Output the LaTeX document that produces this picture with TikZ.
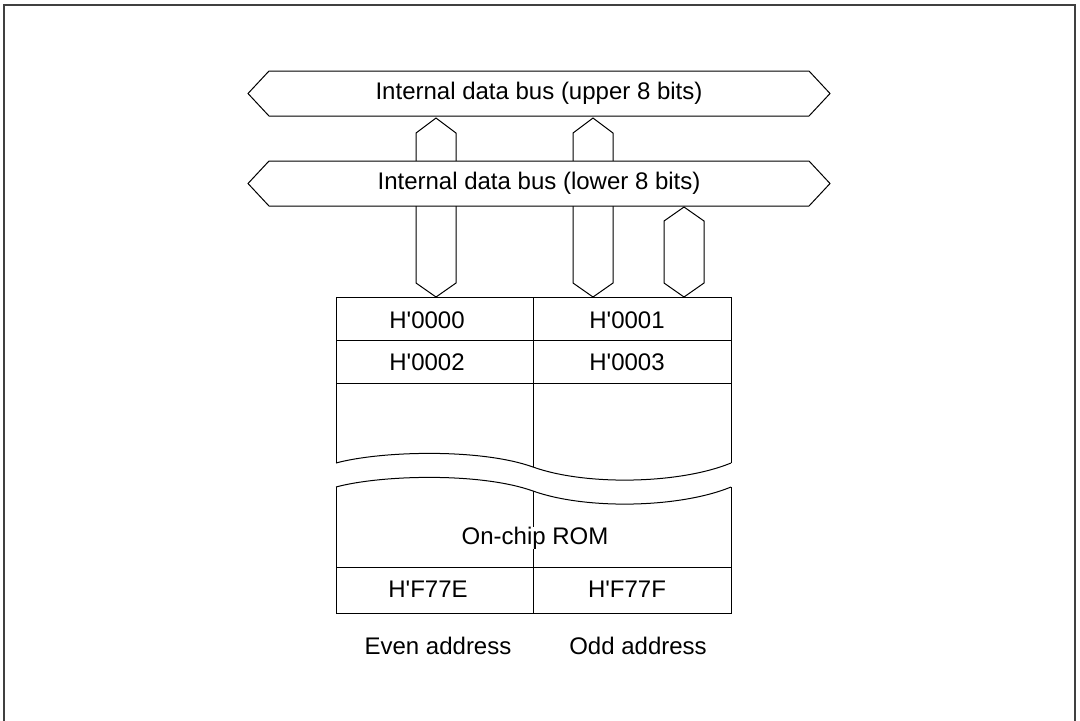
\documentclass[tikz,border=0pt]{standalone}
\usepackage{fontspec}
\setmainfont{Liberation Sans}
\usepackage{tikz}
\usetikzlibrary{positioning}

\begin{document}
\begin{tikzpicture}[x=0.5pt, y=-0.5pt,
        bus/.style={draw=black, fill=white, line width=0.5pt, line join=miter},
        rom/.style={draw=black, line width=0.5pt},
        txt/.style={font=\fontsize{12}{14}\selectfont, inner sep=1pt},
        romlabel/.style={txt, fill=white, inner sep=0pt},
        frame/.style={draw=black!75, line width=1pt}
    ]
        \useasboundingbox (0,0) rectangle (1080,720);
        % outer frame (bottom edge cut off)
        \draw [frame] (4,724) -- (4,5) -- (1075,5) -- (1075,724);

        % vertical buses between upper and lower bus / ROM
        \draw [bus] (436,118) -- (456,133) -- (456,283) -- (436,297) -- (416,283) -- (416,133) -- cycle;
        \draw [bus] (593,118) -- (613,133) -- (613,283) -- (593,297) -- (573,283) -- (573,133) -- cycle;

        % internal data buses
        \draw [bus] (248,93.5) -- (269,71) -- (809,71) -- (830,93.5) -- (809,116) -- (269,116) -- cycle;
        \node [txt] (upperbus) at (539,93.5) {Internal data bus (upper 8 bits)};
        \draw [bus] (248,183.5) -- (269,161) -- (809,161) -- (830,183.5) -- (809,206) -- (269,206) -- cycle;
        \node [txt] (lowerbus) at (539,183.5) {Internal data bus (lower 8 bits)};

        \draw [bus] (684,207) -- (704,221) -- (704,283) -- (684,297) -- (664,283) -- (664,221) -- cycle;

        % on-chip ROM, upper part
        \coordinate (tl) at (336,297);
        \coordinate (tr) at (731,297);
        \coordinate (wl) at (336,463);
        \coordinate (wm) at (533,467);
        \coordinate (wr) at (731,463);
        \draw [rom] (wl) -- (tl) -- (tr) -- (wr);
        \draw [rom] (wl) .. controls (380,451) and (480,448) .. (wm)
                         .. controls (586,486) and (680,484) .. (wr);
        \draw [rom] (336,340) -- (731,340);
        \draw [rom] (336,383) -- (731,383);
        \draw [rom] (533,297) -- (wm);

        % on-chip ROM, lower part
        \coordinate (vl) at (336,487);
        \coordinate (vm) at (533,491);
        \coordinate (vr) at (731,487);
        \coordinate (bl) at (336,613);
        \coordinate (br) at (731,613);
        \draw [rom] (vl) -- (bl) -- (br) -- (vr);
        \draw [rom] (vl) .. controls (380,475) and (480,472) .. (vm)
                         .. controls (586,510) and (680,508) .. (vr);
        \draw [rom] (336,567) -- (731,567);
        \draw [rom] (vm) -- (533,613);

        \node [txt] (a0) at (427,320) {H\textquotesingle 0000};
        \node [txt] (a1) at (627,320) {H\textquotesingle 0001};
        \node [txt] (a2) at (427,362) {H\textquotesingle 0002};
        \node [txt] (a3) at (627,362) {H\textquotesingle 0003};
        \node [romlabel] (romname) at (535,538) {On-chip ROM};
        \node [txt] (aE) at (428,589) {H\textquotesingle F77E};
        \node [txt] (aF) at (627,589) {H\textquotesingle F77F};

        \node [txt] (even) at (438,646) {Even address};
        \node [txt] (odd) at (638,646) {Odd address};
\end{tikzpicture}
\end{document}
